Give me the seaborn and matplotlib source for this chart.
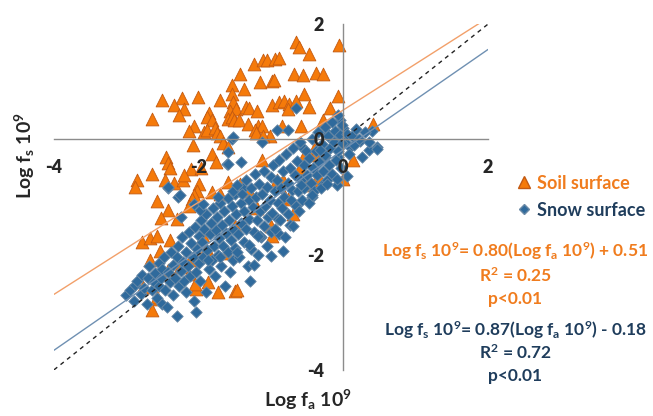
import matplotlib.pyplot as plt
from matplotlib.lines import Line2D
import seaborn as sns
import numpy as np
import pandas as pd

# ==========================================
# DONNEES (en log)
# ==========================================
soil_pts = [
    (-0.65, 1.69), (-0.61, 1.60), (-0.06, 1.63), (-0.47, 1.48), (-1.23, 1.30), (-1.11, 1.38),
    (-1.06, 1.38), (-0.94, 1.40), (-0.89, 1.42), (-1.43, 1.13), (-1.15, 0.99), (-0.99, 1.01),
    (-0.96, 1.03), (-0.68, 1.14), (-0.56, 1.11), (-0.38, 1.15), (-0.28, 1.13), (-1.54, 0.95),
    (-1.38, 0.88), (-0.55, 0.79), (-0.07, 0.75), (-2.50, 0.68), (-2.23, 0.72), (-2.01, 0.73),
    (-1.70, 0.69), (-2.34, 0.59), (-2.20, 0.52), (-2.27, 0.43), (-1.54, 0.79), (-1.52, 0.65),
    (-1.57, 0.50), (-1.48, 0.53), (-1.34, 0.57), (-1.30, 0.55), (-1.19, 0.49), (-0.98, 0.59),
    (-0.89, 0.65), (-0.82, 0.66), (-0.75, 0.61), (-0.77, 0.52), (-0.65, 0.66), (-0.47, 0.56),
    (-0.18, 0.55), (-1.86, 0.45), (-1.88, 0.38), (-1.82, 0.33), (-1.59, 0.36), (-1.54, 0.38),
    (-1.51, 0.33), (-1.44, 0.34), (-2.64, 0.36), (-1.32, 0.27), (-1.18, 0.23), (-1.13, 0.23),
    (-0.85, 0.24), (-0.59, 0.24), (-0.28, 0.33), (-2.07, 0.24), (-2.13, 0.14), (-1.93, 0.13),
    (-1.88, 0.16), (-1.77, 0.19), (-1.74, 0.11), (-1.71, 0.05), (-1.22, 0.16), (-1.21, 0.11),
    (-1.01, 0.05), (-1.11, 0.05), (-2.08, -0.09), (-1.67, -0.07), (-1.59, -0.13), (-1.81, -0.25),
    (-1.76, -0.40), (-2.45, -0.30), (-2.43, -0.41), (-2.39, -0.49), (-2.11, -0.52), (-1.97, -0.49),
    (-2.65, -0.60), (-2.85, -0.71), (-2.88, -0.83), (-2.46, -0.70), (-2.34, -0.76), (-2.22, -0.70),
    (-2.20, -0.61), (-1.99, -0.77), (-2.02, -0.89), (-1.81, -0.91), (-1.59, -0.74), (-2.06, -0.97),
    (-2.09, -1.03), (-2.57, -1.07), (-2.43, -1.23), (-2.13, -1.15), (-2.30, -1.38), (-2.52, -1.36),
    (-1.71, -0.94), (0.41, 0.27), (-1.13, -0.36), (-0.53, -0.25), (-0.40, -0.16), (0.14, -0.35),
    (0.00, -0.68), (-0.38, -0.71), (-1.43, -0.77), (-0.39, -0.28), (-0.92, -0.71), (-0.32, -0.71),
    (-0.83, -0.71), (-0.76, -1.03), (-1.94, -1.67),
    (-2.78, -1.78), (-2.67, -1.72), (-2.58, -1.67), (-2.40, -1.75), (-2.54, -1.93), (-2.67, -2.10),
    (-2.43, -2.26), (-2.26, -2.22), (-2.12, -2.10), (-2.14, -2.33), (-1.84, -2.01), (-1.61, -1.98),
    (-2.04, -2.59), (-1.87, -2.48), (-1.73, -2.65), (-1.50, -2.63), (-2.56, -2.77), (-2.65, -2.97),
    (-2.77, -2.56), (-2.58, -2.74), (-2.05, -2.51), (-1.47, -2.62), (-0.98, -1.68), (-0.69, -1.29),
    (-1.20, -1.20), (-0.80, -1.00), (-1.50, -1.50), (-0.50, -0.80), (-1.00, -1.50), (-1.90, -1.90),
    (-1.30, -0.90), (-0.60, -0.50),
]

snow_pts = [
    (-3.00, -2.70), (-2.95, -2.62), (-2.90, -2.80), (-2.88, -2.53), (-2.85, -2.45), (-2.80, -2.68),
    (-2.78, -2.35), (-2.75, -2.58), (-2.72, -2.85), (-2.70, -2.40), (-2.68, -2.20), (-2.65, -2.62),
    (-2.62, -2.48), (-2.60, -2.32), (-2.58, -2.75), (-2.55, -2.15), (-2.55, -2.55), (-2.52, -2.40),
    (-2.50, -2.85), (-2.50, -2.25), (-2.48, -2.05), (-2.46, -2.62), (-2.44, -2.91), (-2.42, -2.30),
    (-2.40, -2.48), (-2.38, -1.95), (-2.36, -2.18), (-2.35, -2.70), (-2.33, -2.40), (-2.30, -3.07),
    (-2.30, -2.05), (-2.28, -1.85), (-2.27, -2.55), (-2.25, -2.28), (-2.23, -1.70), (-2.22, -2.12),
    (-2.20, -2.45), (-2.18, -1.95), (-2.17, -2.65), (-2.15, -2.20), (-2.13, -1.60), (-2.12, -2.38),
    (-2.10, -1.80), (-2.08, -2.05), (-2.07, -2.81), (-2.05, -1.52), (-2.04, -2.30), (-2.03, -3.00),
    (-2.02, -1.90), (-2.00, -2.15), (-2.00, -1.68), (-1.98, -2.45), (-1.97, -1.40), (-1.95, -1.78),
    (-1.94, -2.05), (-1.92, -1.55), (-1.90, -2.65), (-1.90, -1.30), (-1.88, -1.92), (-1.86, -2.25),
    (-1.85, -1.65), (-1.83, -1.45), (-1.82, -2.10), (-1.80, -1.20), (-1.79, -1.85), (-1.78, -2.38),
    (-1.76, -1.58), (-1.75, -1.35), (-1.73, -2.00), (-1.72, -1.72), (-1.70, -1.10), (-1.69, -2.20),
    (-1.68, -1.48), (-1.66, -1.85), (-1.65, -1.25), (-1.63, -2.55), (-1.62, -1.62), (-1.60, -1.02),
    (-1.59, -1.95), (-1.58, -1.40), (-1.56, -2.30), (-1.55, -1.75), (-1.54, -1.15), (-1.53, -2.10),
    (-1.52, -1.55), (-1.50, -0.95), (-1.50, -1.88), (-1.61, -0.42), (-1.54, 0.01), (-2.28, -1.00),
    (-2.43, -0.84), (-2.25, -1.35), (-1.98, -1.23), (-1.59, -0.42), (-1.42, -0.39), (-1.59, -0.22),
    (-1.52, 0.04), (-1.13, -0.05), (-0.92, 0.16), (-0.77, 0.16), (-0.65, 0.55), (-0.58, -0.12),
    (-0.05, 0.33), (0.00, 0.19), (-0.09, 0.01), (0.36, -0.18), (0.46, -0.13), (0.39, 0.14),
    (0.23, -0.02), (0.09, -0.13), (-0.21, 0.10), (-0.32, -0.13), (-0.25, -0.31), (-0.07, -0.31),
    (-0.09, -0.80), (0.05, -0.63), (-0.44, -1.00), (-0.28, -0.77), (-2.07, -1.12), (-1.94, -1.13),
    (-2.42, -0.83), (-2.26, -0.97), (-1.73, -1.00), (-1.52, -0.89), (-1.39, -0.84),
    (-1.48, -1.30), (-1.47, -0.80), (-1.45, -1.65), (-1.44, -2.05), (-1.42, -1.10), (-1.41, -1.45),
    (-1.40, -0.95), (-1.38, -1.78), (-1.37, -1.25), (-1.35, -0.70), (-1.34, -1.55), (-1.32, -2.20),
    (-1.31, -1.05), (-1.30, -1.38), (-1.28, -0.85), (-1.27, -1.90), (-1.25, -1.18), (-1.24, -1.60),
    (-1.22, -0.60), (-1.21, -1.00), (-1.20, -1.40), (-1.18, -2.00), (-1.17, -0.78), (-1.15, -1.25),
    (-1.14, -1.70), (-1.12, -0.95), (-1.10, -1.50), (-1.09, -0.55), (-1.08, -1.15), (-1.06, -1.85),
    (-1.05, -0.82), (-1.04, -1.35), (-1.02, -1.05), (-1.00, -0.65), (-1.00, -1.60),
    (-1.24, -2.18), (-1.00, -2.03), (-0.84, -1.94), (-1.29, -2.45), (-0.74, -1.48), (-0.89, -1.64),
    (-1.15, -1.67), (-0.90, -1.38), (-1.18, -1.67), (-1.31, -1.84), (-1.47, -1.96), (-1.70, -2.04),
    (-1.87, -2.10),
    (-0.98, -1.28), (-0.97, -0.45), (-0.95, -0.90), (-0.94, -1.55), (-0.92, -0.70), (-0.91, -1.10),
    (-0.89, -0.35), (-0.88, -1.40), (-0.86, -0.85), (-0.85, -1.20), (-0.83, -0.55), (-0.82, -1.00),
    (-0.80, -1.70), (-0.79, -0.25), (-0.77, -0.75), (-0.76, -1.30), (-0.74, -0.50), (-0.73, -1.05),
    (-0.71, -0.88), (-0.70, -0.15), (-0.69, -1.50), (-0.67, -0.62), (-0.66, -1.15), (-0.64, -0.38),
    (-0.63, -0.90), (-0.61, -1.25), (-0.60, -0.05), (-0.58, -0.70), (-0.57, -1.05), (-0.55, -0.45),
    (-0.54, -0.85), (-0.52, -0.20), (-0.50, -0.62),
    (-0.48, -1.10), (-0.47, -0.32), (-0.45, -0.75), (-0.43, 0.00), (-0.42, -0.50), (-0.40, -0.90),
    (-0.38, -0.20), (-0.36, -0.62), (-0.35, 0.12), (-0.33, -0.40), (-0.31, -0.85), (-0.30, -0.08),
    (-0.28, -0.55), (-0.26, 0.22), (-0.25, -0.28), (-0.23, -0.70), (-0.21, 0.05), (-0.20, -0.45),
    (-0.18, -0.15), (-0.16, 0.30), (-0.15, -0.60), (-0.13, -0.05), (-0.12, 0.15), (-0.10, -0.35),
    (-0.08, 0.42), (-0.07, -0.20), (-0.05, 0.08), (-0.03, -0.50), (-0.02, 0.25), (0.02, -0.05),
    (0.05, 0.10), (0.08, -0.25), (0.12, 0.05), (0.15, -0.10), (0.18, 0.18), (0.22, 0.00),
    (0.26, -0.30), (0.30, 0.12), (0.35, -0.05), (-0.32, -0.19), (-0.02, -0.07), (0.46, -0.16),
    (-0.23, -0.77), (-0.09, -0.68), (-0.44, -0.97), (-0.58, -0.80),
]

# droites de regression : pente, ordonnee
soil_fit = (0.80, 0.51)
snow_fit = (0.87, -0.18)
fit_x = np.array([-4.0, 2.0])
ticks = [-4, -2, 0, 2]

orange = "#F07C1E"
navy = "#1F3D5C"

df_soil = pd.DataFrame(soil_pts, columns=["fa", "fs"])
df_snow = pd.DataFrame(snow_pts, columns=["fa", "fs"])

sns.set_style("white")
plt.rcParams["font.family"] = ["Lato", "DejaVu Sans"]
plt.rcParams["font.weight"] = "bold"
plt.rcParams["mathtext.default"] = "regular"

fig = plt.figure(figsize=(6.53, 4.16), dpi=100)
ax = fig.add_axes([0.0827, 0.111, 0.6646, 0.831])

# axes croisees en (0, 0) -- a faire avant de styler les ticks
for side in ["top", "right"]:
    ax.spines[side].set_visible(False)
ax.spines["left"].set_position(("data", 0))
ax.spines["bottom"].set_position(("data", 0))
for side in ["left", "bottom"]:
    ax.spines[side].set_color("#8C8C8C")
    ax.spines[side].set_linewidth(1.0)

# points sous les etiquettes des axes (zorder axe = 2.5)
sns.scatterplot(data=df_soil, x="fa", y="fs", marker="^", s=85, color="#F57A0A",
                edgecolor="#C35A12", linewidth=0.6, ax=ax, zorder=2.0)
sns.scatterplot(data=df_snow, x="fa", y="fs", marker="D", s=34, color="#2F6A9C",
                edgecolor="#6B8AA6", linewidth=0.6, ax=ax, zorder=2.1)

ax.plot(fit_x, soil_fit[0] * fit_x + soil_fit[1], color="#F2A06A", linewidth=1.0, zorder=2.2)
ax.plot(fit_x, snow_fit[0] * fit_x + snow_fit[1], color="#6F90B2", linewidth=1.0, zorder=2.2)
ax.plot(fit_x, fit_x, color="#222222", linewidth=1.0, linestyle=(0, (3, 3)), zorder=2.2)

ax.set_axisbelow(False)
ax.set_xlim(-4, 2)
ax.set_ylim(-4, 2)
ax.set_xlabel("")
ax.set_ylabel("")
ax.tick_params(axis="both", direction="out", length=5, color="#8C8C8C", pad=9,
               labelsize=13)
ax.set_xticks(ticks)
ax.set_yticks(ticks)
ax.set_xticklabels([str(t) for t in ticks], fontweight="heavy", fontsize=13)
ax.set_yticklabels([str(t) for t in ticks], fontweight="heavy", fontsize=13)

# titres des axes
fig.text(0.472, 0.038, r"Log f$_a$ 10$^9$", ha="center", va="center",
         fontsize=14, fontweight="bold")
fig.text(0.038, 0.625, r"Log f$_s$ 10$^9$", ha="center", va="center",
         rotation=90, fontsize=14, fontweight="bold")

# legende
handles = [Line2D([], [], marker="^", linestyle="", color="#F57A0A", markersize=8,
                  markeredgecolor="#C35A12"),
           Line2D([], [], marker="D", linestyle="", color="#2F6A9C", markersize=5,
                  markeredgecolor="#6B8AA6")]
leg = fig.legend(handles, ["Soil surface", "Snow surface"], loc="center left",
                 bbox_to_anchor=(0.77, 0.527), frameon=False,
                 handlelength=0.6, handletextpad=0.4, labelspacing=0.55,
                 prop={"weight": "bold", "size": 13})
for txt, c in zip(leg.get_texts(), [orange, navy]):
    txt.set_color(c)

# equations
cx = 0.789
fs = 12.5
fig.text(cx, 1 - 251 / 416, r"Log f$_s$ 10$^9$= 0.80(Log f$_a$ 10$^9$) + 0.51",
         ha="center", va="center", fontsize=fs, color=orange, fontweight="bold")
fig.text(cx, 1 - 276 / 416, r"R$^2$ = 0.25", ha="center", va="center",
         fontsize=fs, color=orange, fontweight="bold")
fig.text(cx, 1 - 299 / 416, "p<0.01", ha="center", va="center",
         fontsize=fs, color=orange, fontweight="bold")
fig.text(cx, 1 - 330 / 416, r"Log f$_s$ 10$^9$= 0.87(Log f$_a$ 10$^9$) - 0.18",
         ha="center", va="center", fontsize=fs, color=navy, fontweight="bold")
fig.text(cx, 1 - 353 / 416, r"R$^2$ = 0.72", ha="center", va="center",
         fontsize=fs, color=navy, fontweight="bold")
fig.text(cx, 1 - 376 / 416, "p<0.01", ha="center", va="center",
         fontsize=fs, color=navy, fontweight="bold")

plt.savefig("out.png", dpi=100)
plt.close()
